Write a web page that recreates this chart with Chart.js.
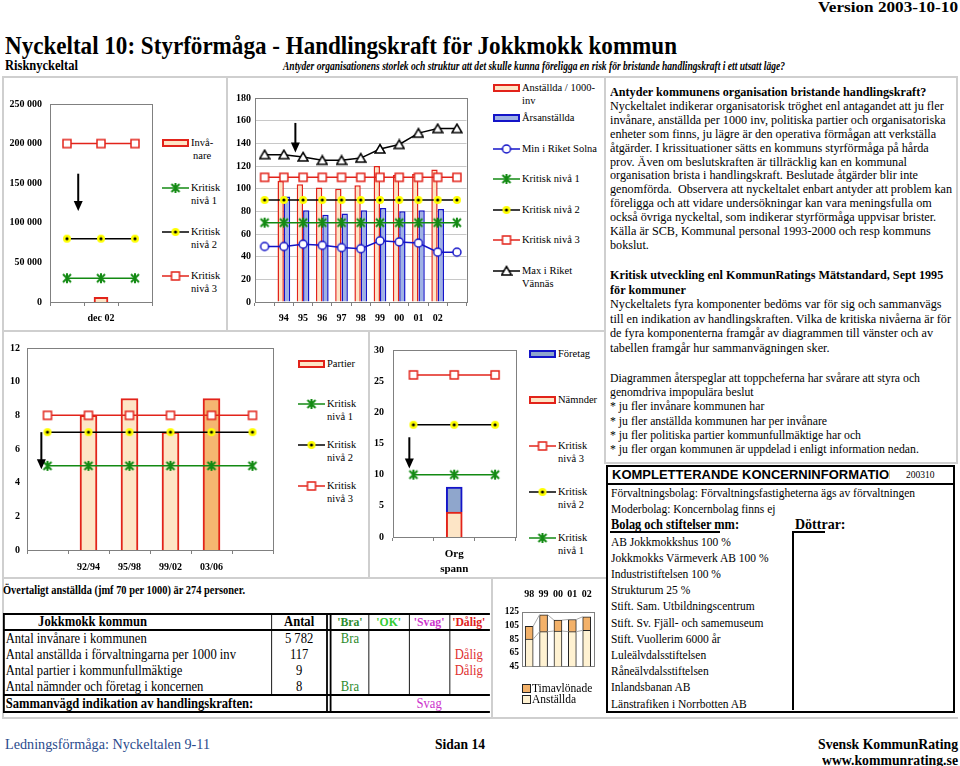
<!DOCTYPE html>
<html lang="sv">
<head>
<meta charset="UTF-8">
<meta name="viewport" content="width=device-width, initial-scale=1.0">
<script src="https://cdn.jsdelivr.net/npm/chart.js"></script>
<title>Nyckeltal 10: Styrförmåga - Handlingskraft för Jokkmokk kommun</title>
<style>
  body { margin: 0; width: 960px; height: 766px; position: relative; overflow: hidden; background: #fff;
         font-family: "Liberation Serif", "Times New Roman", serif; color: #000; }
  .t { position: absolute; white-space: nowrap; }
  .fit { display: inline-block; transform-origin: 0 50%; }
  .ln { position: absolute; background: #cfcfcf; }
  .bk { position: absolute; background: #000; }
  .chart { position: absolute; }
  .leg { position: absolute; font-size: 10.5px; line-height: 12.5px; white-space: nowrap; }
  .leg canvas { position: absolute; left: 0; top: 0; }
  .leg span { position: absolute; left: 29px; top: 0; }
  #tbl .t { line-height: 16px; }
  #tbl .h { font-weight: bold; font-size: 13px; text-align: center; }
</style>
</head>
<body>

<!-- rubriker -->
<div class="t" style="left:818px;top:0;font:bold 14px/16px 'Liberation Serif'"><span class="fit" data-w="140">Version 2003-10-10</span></div>
<div class="t" style="left:5px;top:31px;font:bold 26px/30px 'Liberation Serif'"><span class="fit" data-w="672">Nyckeltal 10: Styrförmåga - Handlingskraft för Jokkmokk kommun</span></div>
<div class="t" style="left:5px;top:58px;font:bold 14px/16px 'Liberation Serif'"><span class="fit" data-w="73">Risknyckeltal</span></div>
<div class="t" style="left:283px;top:59px;font:italic bold 12px/14px 'Liberation Serif'"><span class="fit" data-w="502">Antyder organisationens storlek och struktur att det skulle kunna föreligga en risk för bristande handlingskraft i ett utsatt läge?</span></div>

<!-- ramar -->
<div class="ln" style="left:2px;top:76px;width:956px;height:2px"></div>
<div class="ln" style="left:2px;top:76px;width:2px;height:643px"></div>
<div class="ln" style="left:226px;top:76px;width:2px;height:255px"></div>
<div class="ln" style="left:2px;top:330px;width:604px;height:2px"></div>
<div class="ln" style="left:368px;top:330px;width:2px;height:248px"></div>
<div class="ln" style="left:2px;top:577px;width:604px;height:2px"></div>
<div class="ln" style="left:491px;top:577px;width:2px;height:142px"></div>
<div class="ln" style="left:604px;top:76px;width:2px;height:388px"></div>
<div class="ln" style="left:956px;top:76px;width:2px;height:388px"></div>
<div class="ln" style="left:604px;top:462px;width:354px;height:2px"></div>
<div class="ln" style="left:2px;top:717px;width:956px;height:2px"></div>

<!-- diagram -->
<div class="chart" style="left:0;top:90px;width:160px;height:240px"><canvas id="cInv"></canvas></div>
<div class="chart" style="left:228px;top:85px;width:245px;height:245px"><canvas id="cAnst"></canvas></div>
<div class="chart" style="left:0;top:335px;width:280px;height:245px"><canvas id="cParti"></canvas></div>
<div class="chart" style="left:370px;top:335px;width:152px;height:245px"><canvas id="cOrg"></canvas></div>
<div class="chart" style="left:495px;top:585px;width:108px;height:90px"><canvas id="cPers"></canvas></div>

<div class="t" style="left:3px;top:582px;font:bold 12.5px/16px 'Liberation Serif'"><span class="fit" data-w="242">Övertaligt anställda (jmf 70 per 1000) är 274 personer.</span></div>

<!-- tabell -->
<div id="tbl" style="position:absolute;left:3px;top:613px;width:541px;height:100px;transform:scaleX(0.9);transform-origin:0 0;font-size:14px">
  <div class="bk" style="left:0;top:0;width:541px;height:2px"></div>
  <div class="bk" style="left:0;top:16px;width:541px;height:2px"></div>
  <div class="bk" style="left:0;top:81px;width:541px;height:2px"></div>
  <div class="bk" style="left:0;top:98px;width:541px;height:2px"></div>
  <div class="bk" style="left:0;top:0;width:2px;height:100px"></div>
  <div class="bk" style="left:298px;top:0;width:1px;height:82px"></div>
  <div class="bk" style="left:359px;top:0;width:2px;height:100px"></div>
  <div class="bk" style="left:363px;top:0;width:2px;height:100px"></div>
  <div class="bk" style="left:406px;top:0;width:1px;height:82px"></div>
  <div class="bk" style="left:451px;top:0;width:1px;height:82px"></div>
  <div class="bk" style="left:496px;top:0;width:1px;height:82px"></div>

  <div class="t" style="left:39px;top:1px;font-weight:bold">Jokkmokk kommun</div>
  <div class="t" style="left:298px;width:62px;top:1px;text-align:center;font-weight:bold">Antal</div>
  <div class="t h" style="left:365px;width:41px;top:1px;color:#2e8b2e">'Bra'</div>
  <div class="t h" style="left:406px;width:45px;top:1px;color:#33cc33">'OK'</div>
  <div class="t h" style="left:451px;width:45px;top:1px;color:#cc33cc">'Svag'</div>
  <div class="t h" style="left:496px;width:43px;top:1px;color:#dd2020">'Dålig'</div>

  <div class="t" style="left:3px;top:18px">Antal invånare i kommunen</div>
  <div class="t" style="left:3px;top:34px">Antal anställda i förvaltningarna per 1000 inv</div>
  <div class="t" style="left:3px;top:50px">Antal partier i kommunfullmäktige</div>
  <div class="t" style="left:3px;top:66px">Antal nämnder och företag i koncernen</div>
  <div class="t" style="left:298px;width:62px;top:18px;text-align:center">5 782</div>
  <div class="t" style="left:298px;width:62px;top:34px;text-align:center">117</div>
  <div class="t" style="left:298px;width:62px;top:50px;text-align:center">9</div>
  <div class="t" style="left:298px;width:62px;top:66px;text-align:center">8</div>
  <div class="t" style="left:365px;width:41px;top:18px;text-align:center;color:#2e8b2e">Bra</div>
  <div class="t" style="left:365px;width:41px;top:66px;text-align:center;color:#2e8b2e">Bra</div>
  <div class="t" style="left:496px;width:43px;top:34px;text-align:center;color:#e03030">Dålig</div>
  <div class="t" style="left:496px;width:43px;top:50px;text-align:center;color:#e03030">Dålig</div>

  <div class="t" style="left:3px;top:83px;font-weight:bold">Sammanvägd indikation av handlingskraften:</div>
  <div class="t" style="left:451px;width:45px;top:83px;text-align:center;color:#cc33cc">Svag</div>
</div>

<!-- högerspalt -->
<div class="t" style="left:610px;top:85px;font-size:13px;line-height:13.9px"><span class="fit" data-w="342"><b>Antyder kommunens organisation bristande handlingskraft?</b><br>Nyckeltalet indikerar organisatorisk tröghet enl antagandet att ju fler<br>invånare, anställda per 1000 inv, politiska partier och organisatoriska<br>enheter som finns, ju lägre är den operativa förmågan att verkställa<br>åtgärder. I krissituationer sätts en kommuns styrförmåga på hårda<br>prov. Även om beslutskraften är tillräcklig kan en kommunal<br>organisation brista i handlingskraft. Beslutade åtgärder blir inte<br>genomförda.&nbsp; Observera att nyckeltalet enbart antyder att problem kan<br>föreligga och att vidare undersökningar kan vara meningsfulla om<br>också övriga nyckeltal, som indikerar styrförmåga uppvisar brister.<br>Källa är SCB, Kommunal personal 1993-2000 och resp kommuns<br>bokslut.</span></div>

<div class="t" style="left:610px;top:268px;font-size:13px;line-height:14.6px"><span class="fit" data-w="341"><b>Kritisk utveckling enl KommunRatings Mätstandard, Sept 1995<br>för kommuner</b><br>Nyckeltalets fyra komponenter bedöms var för sig och sammanvägs<br>till en indikation av handlingskraften. Vilka de kritiska nivåerna är för<br>de fyra komponenterna framgår av diagrammen till vänster och av<br>tabellen framgår hur sammanvägningen sker.</span></div>

<div class="t" style="left:610px;top:371px;font-size:13px;line-height:14.2px"><span class="fit" data-w="310">Diagrammen återspeglar att toppcheferna har svårare att styra och<br>genomdriva impopulära beslut<br>* ju fler invånare kommunen har<br>* ju fler anställda kommunen har per invånare<br>* ju fler politiska partier kommunfullmäktige har och<br>* ju fler organ kommunen är uppdelad i enligt information nedan.</span></div>

<!-- koncerninformation -->
<div style="position:absolute;left:606px;top:465px;width:345px;height:244px;border:2px solid #000"></div>
<div class="bk" style="left:606px;top:483px;width:349px;height:2px"></div>
<div class="t" style="left:612px;top:467px;width:278px;overflow:hidden;font:bold 13px/16px 'Liberation Sans'">KOMPLETTERANDE KONCERNINFORMATION</div>
<div class="t" style="left:906px;top:469px;font:9.5px/12px 'Liberation Serif'">200310</div>
<div class="t" style="left:611px;top:485px;font-size:13px;line-height:16.2px"><span class="fit" data-w="304">Förvaltningsbolag: Förvaltningsfastigheterna ägs av förvaltningen<br>Moderbolag: Koncernbolag finns ej<br><b style="font-size:14px">Bolag och stiftelser mm:</b><br>AB Jokkmokkshus 100 %<br>Jokkmokks Värmeverk AB 100 %<br>Industristiftelsen 100 %<br>Strukturum 25 %<br>Stift. Sam. Utbildningscentrum<br>Stift. Sv. Fjäll- och samemuseum<br>Stift. Vuollerim 6000 år<br>Luleälvdalsstiftelsen<br>Råneälvdalsstiftelsen<br>Inlandsbanan AB<br>Länstrafiken i Norrbotten AB</span></div>
<div class="t" style="left:795px;top:517px;font:bold 14px/16px 'Liberation Serif'">Döttrar:</div>
<div class="bk" style="left:610px;top:531px;width:110px;height:2px"></div>
<div class="bk" style="left:792px;top:531px;width:33px;height:2px"></div>
<div class="bk" style="left:792px;top:531px;width:2px;height:179px"></div>

<!-- sidfot -->
<div class="t" style="left:5px;top:737px;font:14px/16px 'Liberation Serif';color:#2a4a8c"><span class="fit" data-w="205">Ledningsförmåga: Nyckeltalen 9-11</span></div>
<div class="t" style="left:435px;top:737px;font:bold 14px/16px 'Liberation Serif'"><span class="fit" data-w="50">Sidan 14</span></div>
<div class="t" style="left:818px;top:737px;font:bold 14px/16px 'Liberation Serif'"><span class="fit" data-w="140">Svensk KommunRating</span></div>
<div class="t" style="left:822px;top:753px;font:bold 14px/16px 'Liberation Serif'"><span class="fit" data-w="136">www.kommunrating.se</span></div>

<script>
    // Invånare (dec 02)
    const invCats = ['', 'dec 02', ''];
    const invAntal = [null, 5782, null];
    const invNiva1 = [30000, 30000, 30000];
    const invNiva2 = [80000, 80000, 80000];
    const invNiva3 = [200000, 200000, 200000];
    const invArrow = { at: 0.33, from: 162000, to: 115000 };

    // Anställda per 1000 invånare 1994-2002
    const anstCats = ['', '94', '95', '96', '97', '98', '99', '00', '01', '02', ''];
    const anstPer1000 = [null, 107, 104, 101, 100, 103, 120, 112, 113, 117, null];
    const arsanstallda = [null, 93, 81, 77, 78, 81, 83, 80, 81, 82, null];
    const minSolna = [49, 49, 51, 50, 48, 47, 54, 53, 52, 44, 44];
    const maxVannas = [130, 130, 128, 125, 125, 127, 135, 139, 149, 153, 153];
    const anstNiva1 = [70, 70, 70, 70, 70, 70, 70, 70, 70, 70, 70];
    const anstNiva2 = [90, 90, 90, 90, 90, 90, 90, 90, 90, 90, 90];
    const anstNiva3 = [110, 110, 110, 110, 110, 110, 110, 110, 110, 110, 110];
    const anstArrow = { at: 1.6, from: 158, to: 132 };

    // Partier i kommunfullmäktige
    const partiCats = ['', '92/94', '95/98', '99/02', '03/06', ''];
    const partier = [null, 8, 9, 7, 9, null];
    const partiNiva1 = [5, 5, 5, 5, 5, 5];
    const partiNiva2 = [7, 7, 7, 7, 7, 7];
    const partiNiva3 = [8, 8, 8, 8, 8, 8];
    const partiArrow = { at: -0.15, from: 7, to: 4.8 };

    // Organisatoriskt spann
    const orgCats = ['', ['Org', 'spann'], ''];
    const namnder = [null, 4, null];
    const foretag = [null, 4, null];
    const orgNiva1 = [10, 10, 10];
    const orgNiva2 = [18, 18, 18];
    const orgNiva3 = [26, 26, 26];
    const orgArrow = { at: -0.1, from: 16, to: 11 };

    // Personal 1998-2002
    const persCats = ['98', '99', '00', '01', '02'];
    const persAnstallda = [85, 96, 97, 96, 98];
    const persTimavlonade = [19, 25, 16, 18, 20];

    const RED = '#e2231a', GREEN = '#138a13', BLUE = '#1414c8';
    const PEACH = '#fde5c6', ORANGE = '#f5b671', LBLUE = '#9fb2e4', GBLUE = '#8fa6cc';
    const AXIS = '#808080', GRIDC = '#c8c8c8';

    Chart.defaults.font.family = "'Liberation Serif', serif";
    Chart.defaults.color = '#000';

    // markörer som små canvas-bilder
    function marker(kind) {
        const c = document.createElement('canvas');
        c.width = 12; c.height = 12;
        const g = c.getContext('2d');
        g.translate(6, 6);
        g.lineWidth = 1.5;
        if (kind === 'sq') {
            g.fillStyle = '#fff'; g.strokeStyle = RED;
            g.fillRect(-4, -4, 8, 8); g.strokeRect(-4, -4, 8, 8);
        } else if (kind === 'dot') {
            g.fillStyle = '#ffff00';
            g.beginPath(); g.arc(0, 0, 4, 0, 7); g.fill();
            g.fillStyle = '#000';
            g.beginPath(); g.arc(0, 0, 1.6, 0, 7); g.fill();
        } else if (kind === 'x') {
            g.strokeStyle = GREEN; g.lineWidth = 2;
            g.beginPath();
            g.moveTo(-4, -4); g.lineTo(4, 4); g.moveTo(-4, 4); g.lineTo(4, -4);
            g.moveTo(0, -5); g.lineTo(0, 5);
            g.stroke();
        } else if (kind === 'circ') {
            g.fillStyle = '#fff'; g.strokeStyle = BLUE;
            g.beginPath(); g.arc(0, 0, 4, 0, 7); g.fill(); g.stroke();
        } else if (kind === 'tri') {
            g.fillStyle = '#fff'; g.strokeStyle = '#000';
            g.beginPath(); g.moveTo(0, -4.5); g.lineTo(5, 4); g.lineTo(-5, 4); g.closePath();
            g.fill(); g.stroke();
        }
        return c;
    }
    const M = { sq: marker('sq'), dot: marker('dot'), x: marker('x'), circ: marker('circ'), tri: marker('tri') };
    const LINEC = { sq: RED, dot: '#000', x: GREEN, circ: BLUE, tri: '#000' };

    function level(label, data, kind) {
        return { type: 'line', label, data, borderColor: LINEC[kind], borderWidth: 1.5,
                 pointStyle: M[kind], pointRadius: 5, order: 0, stack: 'l_' + kind };
    }

    const plotBox = {
        id: 'plotBox',
        beforeDatasetsDraw(chart) {
            const a = chart.chartArea, ctx = chart.ctx;
            ctx.save(); ctx.strokeStyle = AXIS; ctx.lineWidth = 1;
            ctx.strokeRect(Math.round(a.left) + 0.5, Math.round(a.top) + 0.5, Math.round(a.right - a.left), Math.round(a.bottom - a.top));
            ctx.restore();
        }
    };

    const arrowPlugin = {
        id: 'arrow',
        afterDatasetsDraw(chart, args, o) {
            if (!o || o.at === undefined) return;
            const ctx = chart.ctx, x = chart.scales.x, y = chart.scales.y;
            const px = x.getPixelForValue(o.at), y0 = y.getPixelForValue(o.from), y1 = y.getPixelForValue(o.to);
            ctx.save(); ctx.strokeStyle = '#000'; ctx.fillStyle = '#000'; ctx.lineWidth = 2;
            ctx.beginPath(); ctx.moveTo(px, y0); ctx.lineTo(px, y1 - 9); ctx.stroke();
            ctx.beginPath(); ctx.moveTo(px - 4.5, y1 - 10); ctx.lineTo(px + 4.5, y1 - 10); ctx.lineTo(px, y1); ctx.closePath(); ctx.fill();
            ctx.restore();
        }
    };

    const seriesLines = {
        id: 'serLines',
        afterDatasetsDraw(chart) {
            const ctx = chart.ctx;
            ctx.save(); ctx.strokeStyle = '#a8a8a8'; ctx.lineWidth = 1;
            chart.data.datasets.forEach((d, i) => {
                const els = chart.getDatasetMeta(i).data;
                for (let k = 0; k < els.length - 1; k++) {
                    const a = els[k], b = els[k + 1];
                    ctx.beginPath(); ctx.moveTo(a.x + a.width / 2, a.y); ctx.lineTo(b.x - b.width / 2, b.y); ctx.stroke();
                }
            });
            ctx.restore();
        }
    };

    function opts(p) {
        return {
            responsive: true, maintainAspectRatio: false, animation: false,
            layout: { padding: { top: p.top || 0, right: p.right || 0, left: 0, bottom: p.bottom || 0 } },
            plugins: { legend: { display: false }, tooltip: { enabled: false }, arrow: p.arrow || {} },
            scales: {
                x: {
                    type: 'category', position: p.xPos || 'bottom', stacked: !!p.stacked, offset: true,
                    grid: { display: p.xTicks !== false, offset: true, drawOnChartArea: false, drawTicks: p.xTicks !== false, tickLength: 4, color: AXIS },
                    border: { display: true, color: AXIS },
                    ticks: { autoSkip: false, maxRotation: 0, font: { size: p.xFont || 10, weight: 'bold', lineHeight: 1.4 }, padding: p.xPad },
                    afterFit: s => { s.height = p.xH; }
                },
                y: {
                    min: p.min, max: p.max, stacked: !!p.stacked,
                    grid: { display: !!p.grid, color: GRIDC, drawTicks: false },
                    border: { display: true, color: AXIS },
                    ticks: { stepSize: p.step, autoSkip: false, font: { size: p.yFont || 10, weight: 'bold' }, padding: p.yPad,
                             callback: v => String(v).replace(/\B(?=(\d{3})+(?!\d))/g, ' ') },
                    afterFit: s => { s.width = p.yW; }
                }
            }
        };
    }

    new Chart(document.getElementById('cInv'), {
        type: 'bar',
        data: {
            labels: invCats,
            datasets: [
                level('Kritisk nivå 3', invNiva3, 'sq'),
                level('Kritisk nivå 2', invNiva2, 'dot'),
                level('Kritisk nivå 1', invNiva1, 'x'),
                { label: 'Invånare', data: invAntal, backgroundColor: PEACH, borderColor: RED, borderWidth: 2, barThickness: 14, order: 1 }
            ]
        },
        options: opts({ top: 13, right: 8, yW: 50, xH: 28, min: 0, max: 250000, step: 50000, yPad: 8, xPad: 5, arrow: invArrow }),
        plugins: [plotBox, arrowPlugin]
    });

    new Chart(document.getElementById('cAnst'), {
        type: 'bar',
        data: {
            labels: anstCats,
            datasets: [
                level('Max i Riket Vännäs', maxVannas, 'tri'),
                level('Kritisk nivå 3', anstNiva3, 'sq'),
                level('Kritisk nivå 2', anstNiva2, 'dot'),
                level('Kritisk nivå 1', anstNiva1, 'x'),
                level('Min i Riket Solna', minSolna, 'circ'),
                { label: 'Anställda / 1000-inv', data: anstPer1000, backgroundColor: PEACH, borderColor: RED, borderWidth: 1.5,
                  categoryPercentage: 0.66, barPercentage: 1, order: 1 },
                { label: 'Årsanställda', data: arsanstallda, backgroundColor: LBLUE, borderColor: BLUE, borderWidth: 1.5,
                  categoryPercentage: 0.66, barPercentage: 1, order: 1 }
            ]
        },
        options: opts({ top: 13, right: 6, yW: 27, xH: 28, min: 0, max: 180, step: 20, grid: true, yPad: 4, xPad: 5, arrow: anstArrow }),
        plugins: [plotBox, arrowPlugin]
    });

    new Chart(document.getElementById('cParti'), {
        type: 'bar',
        data: {
            labels: partiCats,
            datasets: [
                level('Kritisk nivå 3', partiNiva3, 'sq'),
                level('Kritisk nivå 2', partiNiva2, 'dot'),
                level('Kritisk nivå 1', partiNiva1, 'x'),
                { label: 'Partier', data: partier, borderColor: RED, borderWidth: 2, barThickness: 17, order: 1,
                  backgroundColor: [PEACH, PEACH, PEACH, PEACH, ORANGE, PEACH] }
            ]
        },
        options: opts({ top: 10, right: 7, yW: 27, xH: 30, min: 0, max: 12, step: 2, yPad: 7, xPad: 6, arrow: partiArrow }),
        plugins: [plotBox, arrowPlugin]
    });

    new Chart(document.getElementById('cOrg'), {
        type: 'bar',
        data: {
            labels: orgCats,
            datasets: [
                level('Kritisk nivå 3', orgNiva3, 'sq'),
                level('Kritisk nivå 2', orgNiva2, 'dot'),
                level('Kritisk nivå 1', orgNiva1, 'x'),
                { label: 'Nämnder', data: namnder, backgroundColor: PEACH, borderColor: RED, borderWidth: 2, barThickness: 16, order: 1, stack: 'org' },
                { label: 'Företag', data: foretag, backgroundColor: GBLUE, borderColor: BLUE, borderWidth: 2, barThickness: 16, order: 1, stack: 'org' }
            ]
        },
        options: opts({ top: 10, right: 6, yW: 23, xH: 43, min: 0, max: 30, step: 5, yPad: 9, xPad: 5, xFont: 11, stacked: true, arrow: orgArrow }),
        plugins: [plotBox, arrowPlugin]
    });

    new Chart(document.getElementById('cPers'), {
        type: 'bar',
        data: {
            labels: persCats,
            datasets: [
                { label: 'Anställda', data: persAnstallda, backgroundColor: '#fff2d2', borderColor: '#222', borderWidth: 1, barThickness: 8, clip: 0 },
                { label: 'Timavlönade', data: persTimavlonade, backgroundColor: '#f3b169', borderColor: '#222', borderWidth: 1, barThickness: 8, clip: 0 }
            ]
        },
        options: opts({ top: 0, right: 3, bottom: 7, yW: 27, xH: 27, xPos: 'top', xTicks: false, min: 45, max: 125, step: 20,
                        yPad: 3, xPad: 11, yFont: 9.5, stacked: true }),
        plugins: [plotBox, seriesLines]
    });

    // förklaringar
    function drawSwatch(g, kind) {
        const bars = { barA: [PEACH, RED], barB: [LBLUE, BLUE], barD: [GBLUE, BLUE] };
        if (bars[kind]) {
            g.fillStyle = bars[kind][0]; g.strokeStyle = bars[kind][1]; g.lineWidth = 2;
            g.fillRect(1, 3, 25, 6); g.strokeRect(1, 3, 25, 6);
            return;
        }
        const sq = { boxO: '#f3b169', boxC: '#fff2d2' };
        if (sq[kind]) {
            g.fillStyle = sq[kind]; g.strokeStyle = '#222'; g.lineWidth = 1;
            g.fillRect(0.5, 2.5, 8, 8); g.strokeRect(0.5, 2.5, 8, 8);
            return;
        }
        g.strokeStyle = LINEC[kind]; g.lineWidth = 1.5;
        g.beginPath(); g.moveTo(0, 6); g.lineTo(27, 6); g.stroke();
        g.drawImage(M[kind], 7.5, 0);
    }

    function addLegend(x, y, kind, html, extra) {
        const d = document.createElement('div');
        d.className = 'leg';
        d.style.left = x + 'px';
        d.style.top = (y - 6) + 'px';
        const c = document.createElement('canvas');
        c.width = 27; c.height = 12;
        drawSwatch(c.getContext('2d'), kind);
        const s = document.createElement('span');
        s.innerHTML = html;
        if (extra) Object.assign(s.style, extra);
        d.append(c, s);
        document.body.append(d);
    }

    addLegend(162, 143, 'barA', 'Invå-<br>nare', { textAlign: 'center' });
    addLegend(162, 188, 'x', 'Kritisk<br>nivå 1');
    addLegend(162, 232, 'dot', 'Kritisk<br>nivå 2');
    addLegend(162, 276, 'sq', 'Kritisk<br>nivå 3');

    addLegend(493, 88, 'barA', 'Anställda / 1000-<br>inv');
    addLegend(493, 118, 'barB', 'Årsanställda');
    addLegend(493, 149, 'circ', 'Min i Riket Solna');
    addLegend(493, 179, 'x', 'Kritisk nivå 1');
    addLegend(493, 210, 'dot', 'Kritisk nivå 2');
    addLegend(493, 240, 'sq', 'Kritisk nivå 3');
    addLegend(493, 271, 'tri', 'Max i Riket<br>Vännäs');

    addLegend(298, 364, 'barA', 'Partier');
    addLegend(298, 404, 'x', 'Kritisk<br>nivå 1');
    addLegend(298, 445, 'dot', 'Kritisk<br>nivå 2');
    addLegend(298, 486, 'sq', 'Kritisk<br>nivå 3');

    addLegend(529, 354, 'barD', 'Företag');
    addLegend(529, 400, 'barA', 'Nämnder');
    addLegend(529, 446, 'sq', 'Kritisk<br>nivå 3');
    addLegend(529, 492, 'dot', 'Kritisk<br>nivå 2');
    addLegend(529, 538, 'x', 'Kritisk<br>nivå 1');

    addLegend(522, 688, 'boxO', 'Timavlönade', { left: '10px', fontSize: '11.5px' });
    addLegend(522, 699, 'boxC', 'Anställda', { left: '10px', fontSize: '11.5px' });

    function fitAll() {
        document.querySelectorAll('.fit').forEach(el => {
            el.style.transform = 'none';
            const w = el.getBoundingClientRect().width;
            if (w > 0) el.style.transform = 'scaleX(' + (el.dataset.w / w) + ')';
        });
    }
    fitAll();
    if (document.fonts) document.fonts.ready.then(fitAll);
</script>
</body>
</html>
